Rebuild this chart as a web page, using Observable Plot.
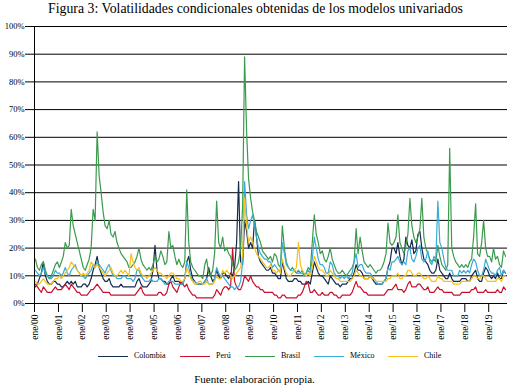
<!DOCTYPE html>
<html><head><meta charset="utf-8">
<script src="https://cdn.jsdelivr.net/npm/d3@7"></script>
<script src="https://cdn.jsdelivr.net/npm/@observablehq/plot@0.6"></script>
<style>
body{margin:0;background:#fff;font-family:"Liberation Serif","Times New Roman",serif;color:#000;}
#wrap{position:relative;width:511px;height:389px;overflow:hidden;}
#title{position:absolute;left:0;top:1px;width:511px;text-align:center;font-size:13.8px;line-height:16px;}
#chart{position:absolute;left:0;top:20px;}
.leg{position:absolute;top:351px;height:10px;font-size:8px;line-height:10px;white-space:nowrap;}
.leg .sw{position:absolute;top:4.5px;width:30px;height:1.3px;}
.leg .lb{position:absolute;top:0;}
#caption{position:absolute;left:0;top:372px;width:509px;text-align:center;font-size:11px;line-height:14px;}
</style></head><body>
<div id="wrap">
<div id="title">Figura 3: Volatilidades condicionales obtenidas de los modelos univariados</div>
<div id="chart"></div>
<div id="legend"></div>
<div id="caption">Fuente: elaboración propia.</div>
</div>
<script>
const startYear = 2000;
const tickLabels = ["ene/00","ene/01","ene/02","ene/03","ene/04","ene/05","ene/06","ene/07","ene/08","ene/09","ene/10","ene/11","ene/12","ene/13","ene/14","ene/15","ene/16","ene/17","ene/18","ene/19"];
const seriesNames = ["Colombia","Perú","Brasil","México","Chile"];
const seriesColors = ["#142b4d","#c8102e","#3a9b4d","#3aabd8","#f5c11a"];
const yTickValues = [0,10,20,30,40,50,60,70,80,90,100];

// Monthly conditional volatilities (%), Jan 2000 - Sep 2019
const colombia = [
 6,7,9,11,15,10,8,7,7,8,8,7,
 7,6,6,7,8,7,8,7,8,6,6,6,
 7,7,6,7,9,12,14,17,13,11,9,8,
 8,9,7,6,6,6,6,7,6,6,6,6,
 6,6,6,8,9,7,6,6,6,7,8,12,
 21,12,9,9,8,8,7,7,9,10,8,8,
 8,7,7,9,15,17,12,9,8,7,7,7,
 7,8,9,13,10,8,9,12,10,9,11,11,
 10,9,11,10,13,22,44,15,14,30,26,20,
 22,20,30,24,17,15,14,13,12,12,13,11,
 11,10,9,9,15,12,9,8,8,8,9,9,
 8,8,7,7,7,8,7,11,15,13,11,10,
 10,9,8,7,10,9,8,7,7,6,7,7,
 7,8,9,9,11,14,12,12,11,9,9,9,
 10,9,8,7,7,7,7,8,9,13,15,20,
 20,18,22,17,14,16,24,21,20,23,18,19,
 25,26,20,16,15,14,12,11,11,12,16,12,
 11,10,9,9,11,9,8,8,8,8,9,9,
 9,8,8,10,11,12,9,8,8,11,13,12,
 10,9,10,9,11,9,9,12,11
];
const peru = [
 7,6,5,4,6,5,4,4,4,5,6,5,
 5,5,6,7,6,5,7,6,5,4,4,3,
 3,3,3,4,5,5,6,7,6,5,4,4,
 4,4,3,3,3,3,3,3,3,3,3,3,
 3,3,3,4,5,6,4,3,3,3,3,3,
 3,3,4,4,3,3,4,7,8,6,5,4,
 6,8,7,6,7,5,4,3,3,2,2,2,
 2,2,2,2,2,2,3,5,4,3,5,6,
 6,5,6,20,8,6,5,5,7,10,9,8,
 10,8,7,6,6,5,5,4,4,4,4,4,
 3,3,2,2,3,3,2,2,2,2,2,2,
 3,3,4,6,8,7,4,4,5,4,3,3,
 4,3,3,3,4,4,3,3,2,2,3,3,
 3,3,3,4,6,8,6,6,5,4,4,3,
 3,3,3,3,3,3,3,3,4,5,5,5,
 6,7,5,5,5,4,5,7,8,6,6,6,
 7,7,6,5,5,6,4,4,4,5,6,5,
 5,4,4,4,4,4,3,3,3,3,4,4,
 4,4,4,5,5,6,4,4,4,4,5,4,
 4,4,4,4,5,4,4,6,5
];
const brasil = [
 16,13,12,14,15,12,10,9,10,12,14,15,
 13,15,17,22,20,21,34,28,25,22,19,16,
 13,12,14,16,20,34,30,62,46,40,33,28,
 27,30,25,24,26,22,20,18,17,16,15,13,
 13,14,15,17,20,16,14,13,12,13,12,14,
 17,15,16,19,17,14,15,26,20,21,17,14,
 16,14,13,15,41,22,15,13,12,11,10,10,
 9,14,16,11,10,12,18,37,22,20,24,19,
 20,18,17,14,12,13,15,20,35,89,62,45,
 38,33,30,26,24,22,19,18,17,16,17,15,
 18,17,14,13,28,20,15,13,12,13,12,11,
 12,11,12,10,11,13,12,22,32,25,22,18,
 19,16,15,17,20,16,14,12,11,11,12,11,
 10,11,12,13,15,27,18,24,19,15,14,13,
 14,13,12,11,12,12,13,15,18,29,22,21,
 22,24,32,22,20,18,21,25,38,28,24,22,
 24,27,38,24,20,18,16,15,16,15,21,17,
 14,13,12,14,56,20,17,15,14,13,14,13,
 14,13,15,16,24,36,18,17,22,30,20,17,
 17,15,20,16,17,14,13,19,17
];
const mexico = [
 12,11,10,11,13,11,10,9,9,10,12,11,
 11,10,11,13,11,10,12,13,14,12,11,10,
 10,9,10,11,12,14,13,15,14,13,12,11,
 13,14,12,10,10,9,9,9,10,10,9,9,
 9,8,9,12,12,10,9,8,8,8,9,8,
 8,8,9,9,8,7,7,8,8,8,7,7,
 7,7,7,9,15,13,10,8,8,7,7,7,
 7,8,9,7,7,7,9,13,11,10,10,9,
 8,7,6,6,5,6,6,8,15,44,32,27,
 30,32,28,24,20,18,17,16,16,15,15,13,
 14,13,12,12,22,18,14,13,12,12,12,11,
 11,11,11,10,11,12,11,16,24,20,16,14,
 14,13,11,11,15,14,11,10,10,9,10,9,
 10,9,10,11,15,18,13,14,14,12,11,11,
 11,10,9,8,7,7,7,8,9,13,12,15,
 15,16,17,15,14,15,14,19,20,16,15,17,
 20,21,16,15,16,19,15,14,17,16,37,22,
 20,16,13,12,12,12,10,10,10,12,11,12,
 11,12,11,14,16,15,12,10,10,12,16,14,
 12,11,11,10,12,13,10,12,11
];
const chile = [
 8,7,7,8,9,8,7,7,7,8,9,9,
 10,9,10,11,12,13,15,14,13,12,11,10,
 11,10,11,12,15,14,13,14,13,12,11,10,
 11,12,13,11,10,10,11,12,11,12,11,10,
 18,15,13,12,13,11,10,10,9,10,11,12,
 13,12,11,11,10,10,9,10,11,11,10,9,
 9,8,8,9,13,11,9,8,7,7,8,8,
 7,7,8,7,7,7,8,10,9,9,12,11,
 12,11,10,9,10,11,12,13,18,38,28,22,
 24,22,20,18,17,16,15,14,13,13,14,12,
 12,11,12,11,16,13,11,10,10,11,12,13,
 22,14,12,11,10,11,10,13,17,15,13,12,
 12,11,10,10,12,11,10,9,9,8,8,8,
 8,8,8,9,10,12,11,10,10,9,9,9,
 10,9,9,8,8,8,8,8,8,9,9,10,
 10,10,11,9,9,10,10,12,12,11,10,10,
 11,11,10,9,9,10,9,8,8,8,10,9,
 9,8,8,8,8,8,7,7,7,7,8,8,
 8,8,8,9,10,10,9,9,10,10,9,8,
 8,8,8,8,9,9,8,10,10
];

const seriesValues = [colombia, peru, brasil, mexico, chile];
const data = [];
seriesValues.forEach((arr, k) => arr.forEach((v, i) => {
  data.push({date: new Date(Date.UTC(startYear, i, 15)), value: v, series: seriesNames[k]});
}));
const xStart = new Date(Date.UTC(startYear, 0, 1));
const xEnd = new Date(Date.UTC(2019, 9, 15));
const yearTicks = tickLabels.map((_, i) => new Date(Date.UTC(startYear + i, 0, 1)));

const chart = Plot.plot({
  width: 511, height: 325,
  marginLeft: 34, marginRight: 4, marginTop: 6, marginBottom: 42,
  style: {fontFamily: '"Liberation Serif","Times New Roman",serif', background: "white", color: "black"},
  x: {type: "utc", domain: [xStart, xEnd]},
  y: {domain: [0, 100]},
  color: {domain: seriesNames, range: seriesColors},
  marks: [
    Plot.ruleY(yTickValues, {stroke: "black", strokeWidth: 1}),
    Plot.ruleX([xStart], {stroke: "black", strokeWidth: 1}),
    Plot.line(data, {x: "date", y: "value", z: "series", stroke: "series", strokeWidth: 1.2}),
    Plot.axisY({ticks: yTickValues, tickFormat: d => d + "%", tickSize: 9, tickPadding: 1, fontSize: 8.5, label: null}),
    Plot.axisX({ticks: yearTicks, tickFormat: d => tickLabels[d.getUTCFullYear() - startYear], tickRotate: -90, tickSize: 9, tickPadding: 2, fontSize: 9.5, label: null})
  ]
});
document.getElementById("chart").appendChild(chart);

const legendX = [98, 180, 245, 314, 388];
const legend = document.getElementById("legend");
seriesNames.forEach((name, k) => {
  const item = document.createElement("div");
  item.className = "leg";
  item.style.left = legendX[k] + "px";
  item.innerHTML = `<div class="sw" style="left:0;background:${seriesColors[k]}"></div><div class="lb" style="left:36px">${name}</div>`;
  legend.appendChild(item);
});
</script>
</body></html>
